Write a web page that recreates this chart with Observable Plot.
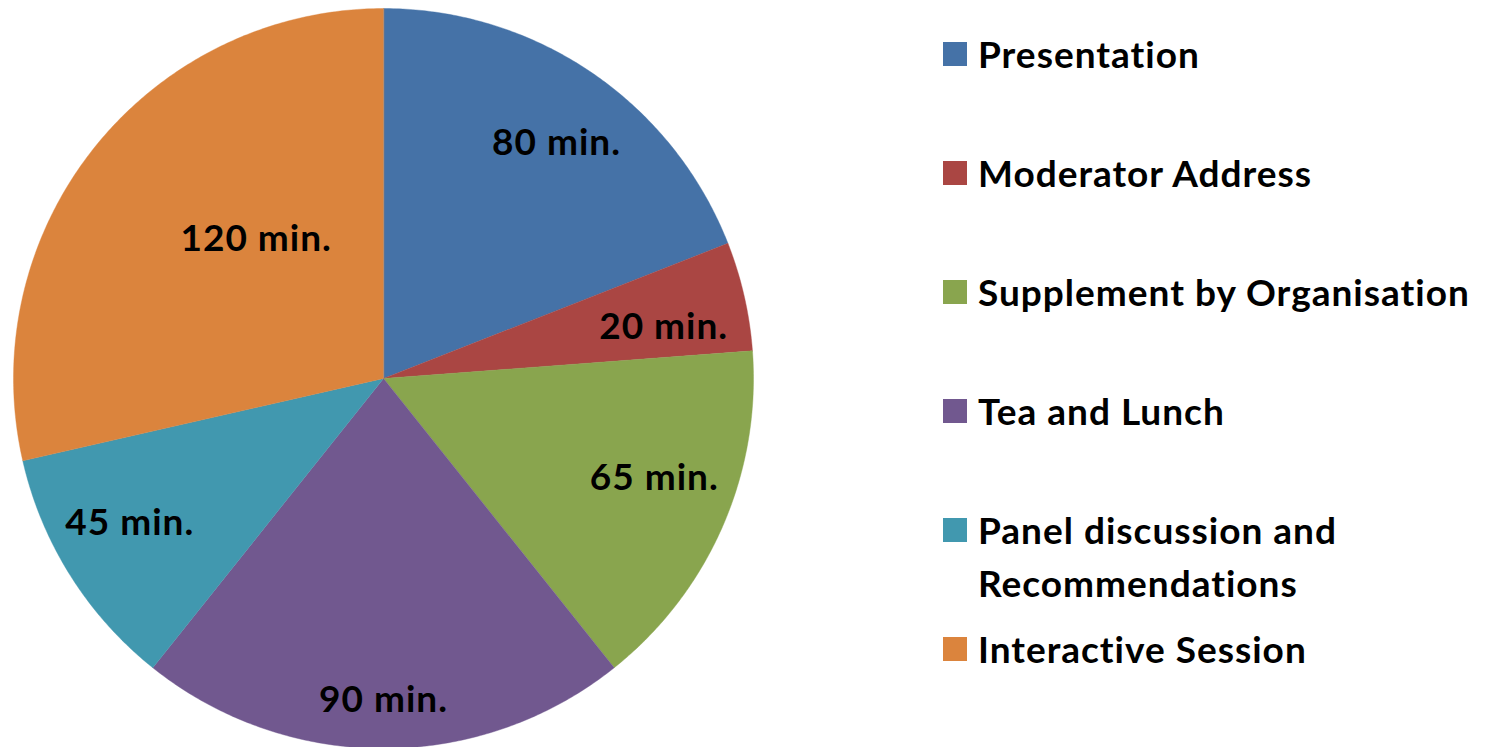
<!DOCTYPE html>
<html>
<head>
<meta charset="utf-8">
<script src="https://cdn.jsdelivr.net/npm/d3@7"></script>
<script src="https://cdn.jsdelivr.net/npm/@observablehq/plot@0.6"></script>
<style>
  html, body { margin: 0; padding: 0; background: #fff; }
  #wrap { position: relative; width: 1491px; height: 747px; overflow: hidden; font-family: Lato, "Open Sans", sans-serif; font-variant-ligatures: none; }
  #chart { position: absolute; left: 0; top: 0; }
  #chart text { letter-spacing: 1px; font-variant-ligatures: none; }
  #legend { position: absolute; left: 943px; top: 27px; }
  .item { display: flex; align-items: flex-start; margin-bottom: 66px; }
  .item.multi { margin-bottom: 13px; }
  .sw { width: 24px; height: 24px; margin-top: 15px; margin-right: 11px; flex: none; }
  .lab { font-weight: 700; font-size: 37px; line-height: 53px; color: #000; white-space: nowrap; letter-spacing: 1px; }
</style>
</head>
<body>
<div id="wrap">
  <div id="chart"></div>
  <div id="legend"></div>
</div>
<script>
// ---- data ----
const categories = ["Presentation", "Moderator Address", "Supplement by Organisation", "Tea and Lunch", "Panel discussion and Recommendations", "Interactive Session"];
const legendLines = [["Presentation"], ["Moderator Address"], ["Supplement by Organisation"], ["Tea and Lunch"], ["Panel discussion and", "Recommendations"], ["Interactive Session"]];
const minutes = [80, 20, 65, 90, 45, 120];
const labels = ["80 min.", "20 min.", "65 min.", "90 min.", "45 min.", "120 min."];
const colors = ["#4572A7", "#AA4643", "#89A54E", "#71588F", "#4198AF", "#DB843D"];

// ---- label layout (radius fraction, angle nudge in degrees) ----
const labelRadius = [0.79, 0.77, 0.78, 0.87, 0.79, 0.51];
const labelNudge = [2, 2.4, -3.3, 0, 2.4, 9];

// ---- pie geometry via d3.pie ----
const arcs = d3.pie().sort(null).value(d => d)(minutes);
const pts = [];
arcs.forEach((a, i) => {
  const cat = categories[i];
  pts.push({cat, x: 0, y: 0});
  const n = Math.max(2, Math.ceil((a.endAngle - a.startAngle) / (Math.PI / 360)));
  for (let k = 0; k <= n; k++) {
    const t = a.startAngle + (a.endAngle - a.startAngle) * k / n;
    pts.push({cat, x: Math.sin(t), y: Math.cos(t)});
  }
});
const labelData = arcs.map((a, i) => {
  const t = (a.startAngle + a.endAngle) / 2 + labelNudge[i] * Math.PI / 180;
  return {x: labelRadius[i] * Math.sin(t), y: labelRadius[i] * Math.cos(t), text: labels[i]};
});

const chart = Plot.plot({
  width: 770,
  height: 747,
  margin: 0,
  x: {domain: [-1, 1], range: [13, 753], axis: null},
  y: {domain: [-1, 1], range: [748, 8], axis: null},
  color: {domain: categories, range: colors, legend: false},
  style: {fontFamily: "Lato, 'Open Sans', sans-serif", background: "#fff", overflow: "visible"},
  marks: [
    Plot.line(pts, {x: "x", y: "y", z: "cat", fill: "cat", stroke: "cat", strokeWidth: 0.4, curve: "linear-closed"}),
    Plot.text(labelData, {x: "x", y: "y", text: "text", fontSize: 37, fontWeight: "bold", fill: "#000", textAnchor: "middle", lineAnchor: "middle"})
  ]
});
document.getElementById("chart").appendChild(chart);

// ---- legend ----
const leg = document.getElementById("legend");
categories.forEach((c, i) => {
  const item = document.createElement("div");
  item.className = "item" + (legendLines[i].length > 1 ? " multi" : "");
  const sw = document.createElement("div");
  sw.className = "sw";
  sw.style.background = colors[i];
  const lab = document.createElement("div");
  lab.className = "lab";
  lab.innerHTML = legendLines[i].join("<br>");
  item.appendChild(sw);
  item.appendChild(lab);
  leg.appendChild(item);
});
</script>
</body>
</html>
